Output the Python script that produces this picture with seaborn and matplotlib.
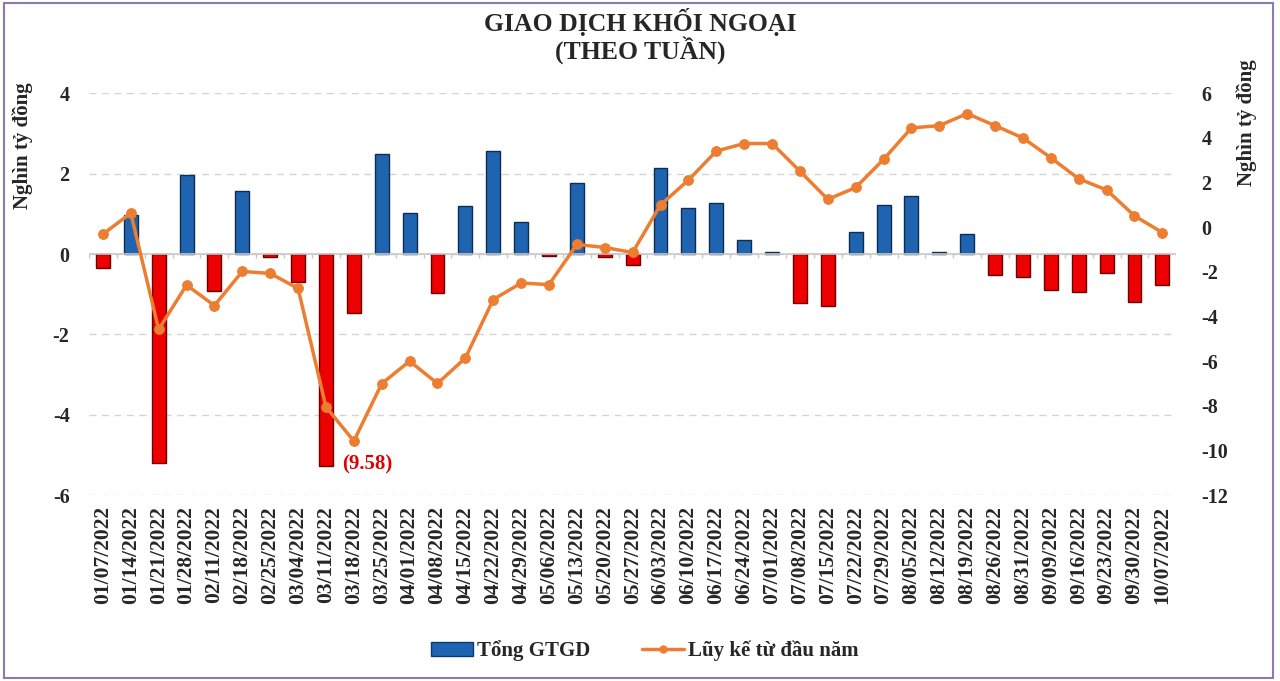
import numpy as np
import pandas as pd
import matplotlib.pyplot as plt
import seaborn as sns
from matplotlib.patches import Patch, Rectangle
from matplotlib.lines import Line2D

# Du lieu: tuan, tong GTGD (nghin ty), luy ke tu dau nam (nghin ty)
tuan = ['01/07/2022', '01/14/2022', '01/21/2022', '01/28/2022', '02/11/2022',
        '02/18/2022', '02/25/2022', '03/04/2022', '03/11/2022', '03/18/2022',
        '03/25/2022', '04/01/2022', '04/08/2022', '04/15/2022', '04/22/2022',
        '04/29/2022', '05/06/2022', '05/13/2022', '05/20/2022', '05/27/2022',
        '06/03/2022', '06/10/2022', '06/17/2022', '06/24/2022', '07/01/2022',
        '07/08/2022', '07/15/2022', '07/22/2022', '07/29/2022', '08/05/2022',
        '08/12/2022', '08/19/2022', '08/26/2022', '08/31/2022', '09/09/2022',
        '09/16/2022', '09/23/2022', '09/30/2022', '10/07/2022']
tong_gtgd = [-0.36, 0.97, -5.21, 1.97, -0.91, 1.57, -0.07, -0.70, -5.27, -1.46,
             2.49, 1.03, -0.98, 1.20, 2.56, 0.80, -0.04, 1.77, -0.08, -0.27,
             2.15, 1.15, 1.26, 0.35, 0.04, -1.23, -1.29, 0.54, 1.23, 1.44,
             0.06, 0.50, -0.51, -0.56, -0.90, -0.95, -0.48, -1.20, -0.77]
luy_ke = [-0.31, 0.63, -4.58, -2.59, -3.51, -1.98, -2.07, -2.74, -8.05, -9.58,
          -7.01, -6.00, -7.00, -5.86, -3.24, -2.50, -2.57, -0.77, -0.91, -1.13,
          1.00, 2.11, 3.41, 3.75, 3.75, 2.51, 1.25, 1.78, 3.04, 4.45,
          4.55, 5.09, 4.55, 4.00, 3.11, 2.17, 1.67, 0.51, -0.24]

df = pd.DataFrame({'Tuần': tuan, 'Tổng GTGD': tong_gtgd, 'Lũy kế': luy_ke})

XANH = '#1f64b0'
DO = '#ec0000'
CAM = '#ed7d31'
mau = {t: (XANH if v >= 0 else DO) for t, v in zip(tuan, tong_gtgd)}

sns.set_style('white')
plt.rcParams['font.family'] = ['Liberation Serif', 'DejaVu Serif']
plt.rcParams['font.weight'] = 'bold'
plt.rcParams['axes.unicode_minus'] = False

fig = plt.figure(figsize=(12.8, 6.81), dpi=100)
ax = fig.add_axes([0.0695, 0.273, 0.8495, 0.59])

sns.barplot(data=df, x='Tuần', y='Tổng GTGD', hue='Tuần', palette=mau,
            legend=False, width=0.5, ax=ax, saturation=1)
for p in ax.patches:
    fc = p.get_facecolor()
    p.set_edgecolor((fc[0] * 0.45, fc[1] * 0.45, fc[2] * 0.45, 1))
    p.set_linewidth(1.0)

ax.set_ylim(-6, 4)
ax.set_yticks([-6, -4, -2, 0, 2, 4])
ax.set_xlim(-0.5, len(tuan) - 0.5)
ax.yaxis.grid(True, linestyle=(0, (5, 4)), color='#d4d4d4', linewidth=1)
ax.set_axisbelow(True)
ax.axhline(0, color='#c8c8c8', linewidth=1.2, zorder=1)
ax.vlines(np.arange(len(tuan) + 1) - 0.5, -0.1, 0, color='#c8c8c8', linewidth=1, zorder=1)
ax.set_xlabel('')
ax.set_ylabel('')
ax.tick_params(axis='y', length=0, pad=14, labelsize=14.5)
ax.tick_params(axis='x', length=0, pad=8, labelsize=15.5, rotation=90)
for s in ax.spines.values():
    s.set_visible(False)

ax2 = ax.twinx()
sns.lineplot(x=np.arange(len(tuan)), y=luy_ke, ax=ax2, color=CAM, linewidth=2.5,
             marker='o', markersize=7, markeredgecolor=CAM)
ax2.set_ylim(-12, 6)
ax2.set_yticks(range(-12, 7, 2))
ax2.tick_params(axis='y', length=0, pad=18, labelsize=14.5)
for s in ax2.spines.values():
    s.set_visible(False)

# nhan gia tri thap nhat
ax.text(9.47, -5.25, '(9.58)', color='#e00000', fontsize=15, fontweight='bold',
        ha='center', va='center')

fig.text(0.5, 1 - 22 / 681, 'GIAO DỊCH KHỐI NGOẠI', ha='center', va='center',
         fontsize=18.5, fontweight='bold')
fig.text(0.5, 1 - 50 / 681, '(THEO TUẦN)', ha='center', va='center',
         fontsize=18.5, fontweight='bold')
fig.text(23 / 1280, 1 - 146 / 681, 'Nghìn tỷ đồng', rotation=90, ha='center',
         va='center', fontsize=15, fontweight='bold')
fig.text(1247 / 1280, 1 - 123 / 681, 'Nghìn tỷ đồng', rotation=90, ha='center',
         va='center', fontsize=15, fontweight='bold')

handles = [Patch(facecolor=XANH, edgecolor='#0d3a70'),
           Line2D([0], [0], color=CAM, linewidth=2.5, marker='o', markersize=5)]
fig.legend(handles, ['Tổng GTGD', 'Lũy kế từ đầu năm'], loc='center',
           bbox_to_anchor=(0.504, 1 - 651 / 681), ncol=2, frameon=False,
           prop={'size': 15, 'weight': 'bold'}, columnspacing=2.5,
           handlelength=2.0, handletextpad=0.2)

fig.patches.append(Rectangle((4 / 1280, 3 / 681), 1269 / 1280, 675 / 681,
                             transform=fig.transFigure, fill=False,
                             edgecolor='#8a7bb5', linewidth=1.5))

fig.savefig('out.png', dpi=100)
